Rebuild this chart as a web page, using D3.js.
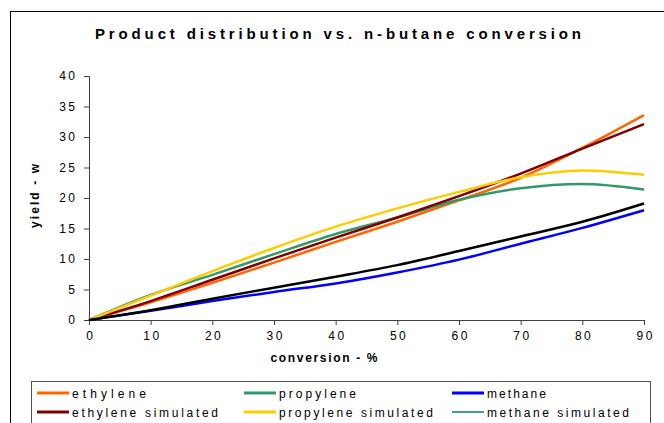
<!DOCTYPE html>
<html>
<head>
<meta charset="utf-8">
<script src="https://cdn.jsdelivr.net/npm/d3@7/dist/d3.min.js"></script>
<style>
  html, body { margin: 0; padding: 0; background: #fff; }
  svg { display: block; font-family: "Liberation Sans", Arial, sans-serif; }
</style>
</head>
<body>
<svg id="chart" width="664" height="423"></svg>
<script>
// ---- data ----
const conversion = [0, 10, 20, 30, 40, 50, 60, 70, 80, 90];
const ethylene = [0, 2.9, 6.1, 9.4, 12.8, 16.1, 19.6, 23.3, 28.2, 33.6];
const propylene = [0, 4.1, 7.4, 10.8, 14.1, 16.8, 19.7, 21.6, 22.3, 21.4];
const methane = [0, 1.5, 3.1, 4.6, 6.0, 7.8, 9.9, 12.5, 15.1, 18.0];
const ethyleneSim = [0, 3.1, 6.6, 10.1, 13.5, 16.8, 20.3, 24.0, 28.1, 32.1];
const propyleneSim = [0, 4.0, 8.0, 11.8, 15.3, 18.3, 21.0, 23.4, 24.5, 23.8];
const methaneSim = [0, 1.6, 3.5, 5.3, 7.1, 9.0, 11.3, 13.7, 16.1, 19.1];
const seriesNames = ["ethylene", "propylene", "methane", "ethylene simulated", "propylene simulated", "methane simulated"];
const xTicks = [0, 10, 20, 30, 40, 50, 60, 70, 80, 90];
const yTicks = [0, 5, 10, 15, 20, 25, 30, 35, 40];
const titleText = "Product distribution vs. n-butane conversion";
const xTitle = "conversion - %";
const yTitle = "yield - w";

// ---- styling ----
const colors = ["#FF6600", "#339966", "#0000FF", "#800000", "#FFCC00", "#000000"];
const legendColors = ["#FF6600", "#339966", "#0000FF", "#800000", "#FFCC00", "#008080"];
const legendWidths = [3, 3, 3, 3, 3, 1.5];
const seriesValues = [ethylene, propylene, methane, ethyleneSim, propyleneSim, methaneSim];

const svg = d3.select("#chart");
const x = d3.scaleLinear().domain([0, 90]).range([89, 644]);
const y = d3.scaleLinear().domain([0, 40]).range([320, 76]);

// outer border
svg.append("rect").attr("x", 10.5).attr("y", 11.5).attr("width", 720).attr("height", 500)
  .attr("fill", "none").attr("stroke", "#000").attr("stroke-width", 1);

// title
svg.append("text").attr("x", 338).attr("y", 39).attr("text-anchor", "middle")
  .attr("font-size", 15).attr("font-weight", "bold")
  .attr("textLength", 486).attr("lengthAdjust", "spacing")
  .text(titleText);

// axes
const axisColor = "#404040";
const gx = svg.append("g").attr("transform", "translate(0,320)")
  .call(d3.axisBottom(x).tickValues(xTicks).tickSize(5).tickPadding(6).tickFormat(d3.format("d")));
const gy = svg.append("g").attr("transform", "translate(89,0)")
  .call(d3.axisLeft(y).tickValues(yTicks).tickSize(5).tickPadding(9).tickFormat(d3.format("d")));
[gx, gy].forEach(g => {
  g.select(".domain").attr("stroke", axisColor);
  g.selectAll(".tick line").attr("stroke", axisColor);
  g.selectAll(".tick text").attr("font-size", 12).attr("fill", "#000")
    .attr("font-family", "'Liberation Sans', Arial, sans-serif")
    .style("letter-spacing", "2.5px");
});
gx.selectAll(".tick text").attr("dx", "1.25px");
gy.selectAll(".tick text").attr("dx", "2.5px");

// axis titles
svg.append("text").attr("x", 324).attr("y", 362).attr("text-anchor", "middle")
  .attr("font-size", 12).attr("font-weight", "bold")
  .attr("textLength", 107).attr("lengthAdjust", "spacing")
  .text(xTitle);
svg.append("text").attr("transform", "translate(39,196) rotate(-90)")
  .attr("text-anchor", "middle").attr("font-size", 12).attr("font-weight", "bold")
  .attr("textLength", 64).attr("lengthAdjust", "spacing")
  .text(yTitle);

// lines
const line = d3.line().x(d => x(d[0])).y(d => y(d[1])).curve(d3.curveMonotoneX);
const drawOrder = [0, 1, 2, 3, 4, 5];
drawOrder.forEach(i => {
  const pts = conversion.map((c, j) => [c, seriesValues[i][j]]);
  svg.append("path").datum(pts).attr("d", line)
    .attr("fill", "none").attr("stroke", colors[i]).attr("stroke-width", 2.5)
    .attr("stroke-linejoin", "round");
});

// legend
svg.append("rect").attr("x", 31.5).attr("y", 381.5).attr("width", 619).attr("height", 80)
  .attr("fill", "#fff").attr("stroke", "#505050").attr("stroke-width", 1);
const colX = [37, 244, 452];
const rowY = [393, 412];
const legendTextLen = [74, 77, 59, 146, 154, 142];
seriesNames.forEach((name, i) => {
  const col = i % 3, row = Math.floor(i / 3);
  const lx = colX[col], ly = rowY[row];
  svg.append("line").attr("x1", lx).attr("x2", lx + 32).attr("y1", ly).attr("y2", ly)
    .attr("stroke", legendColors[i]).attr("stroke-width", legendWidths[i]);
  svg.append("text").attr("x", lx + 35).attr("y", ly + 4.5)
    .attr("font-size", 12).attr("fill", "#000")
    .attr("textLength", legendTextLen[i]).attr("lengthAdjust", "spacing")
    .text(name);
});
</script>
</body>
</html>
